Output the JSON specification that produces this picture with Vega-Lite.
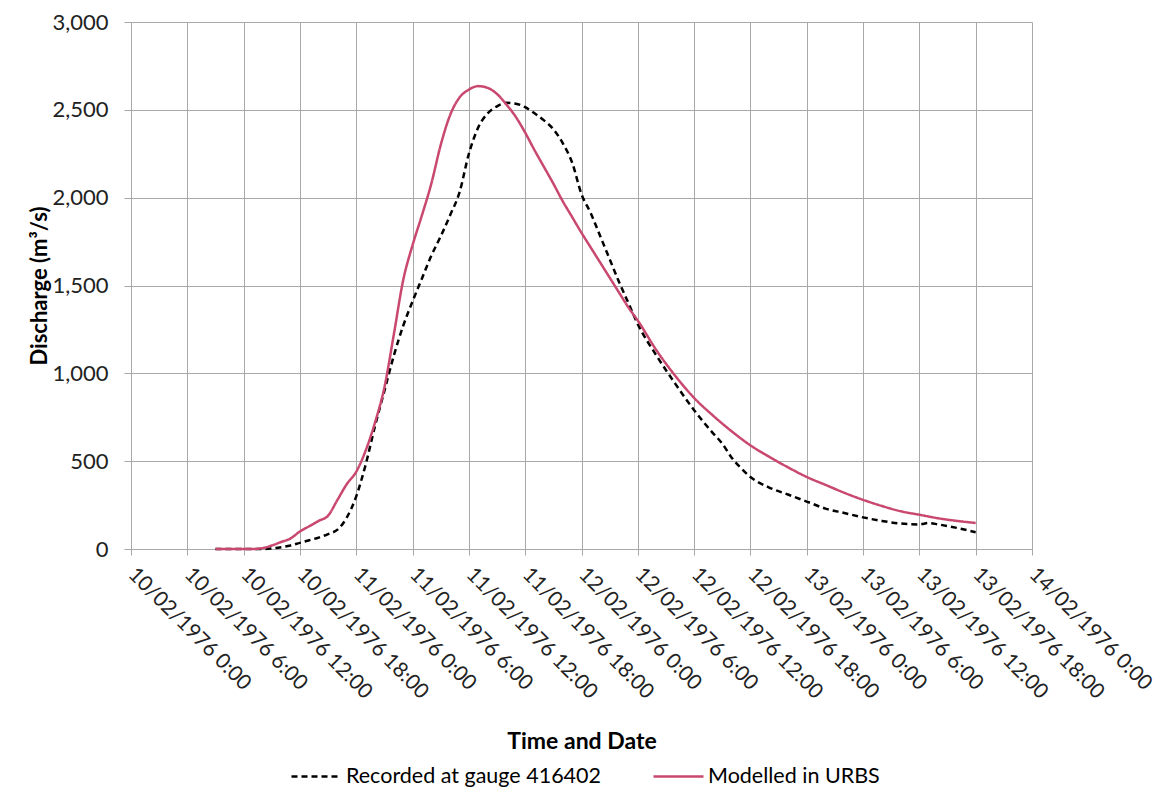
{
  "$schema": "https://vega.github.io/schema/vega-lite/v6.json",
  "autosize": {"type": "none"},
  "width": 901,
  "height": 527,
  "padding": {"left": 131, "top": 22, "right": 134, "bottom": 251},
  "background": "white",
  "config": {
    "font": "Lato",
    "view": {"stroke": null},
    "axis": {"labelFont": "Lato", "titleFont": "Lato", "labelColor": "#222", "titleColor": "#000", "gridColor": "#a8a8a8", "gridWidth": 1, "domainColor": "#a8a8a8", "tickColor": "#a8a8a8"}
  },
  "data": {"values": [
    {"t": "1976-02-10T09:00", "q": 0, "s": "Recorded at gauge 416402"},
    {"t": "1976-02-10T14:00", "q": 0, "s": "Recorded at gauge 416402"},
    {"t": "1976-02-10T15:00", "q": 3, "s": "Recorded at gauge 416402"},
    {"t": "1976-02-10T16:00", "q": 10, "s": "Recorded at gauge 416402"},
    {"t": "1976-02-10T17:00", "q": 20, "s": "Recorded at gauge 416402"},
    {"t": "1976-02-10T18:00", "q": 35, "s": "Recorded at gauge 416402"},
    {"t": "1976-02-10T19:00", "q": 50, "s": "Recorded at gauge 416402"},
    {"t": "1976-02-10T20:00", "q": 65, "s": "Recorded at gauge 416402"},
    {"t": "1976-02-10T21:00", "q": 85, "s": "Recorded at gauge 416402"},
    {"t": "1976-02-10T22:00", "q": 110, "s": "Recorded at gauge 416402"},
    {"t": "1976-02-10T23:00", "q": 180, "s": "Recorded at gauge 416402"},
    {"t": "1976-02-11T00:00", "q": 300, "s": "Recorded at gauge 416402"},
    {"t": "1976-02-11T01:00", "q": 480, "s": "Recorded at gauge 416402"},
    {"t": "1976-02-11T02:00", "q": 700, "s": "Recorded at gauge 416402"},
    {"t": "1976-02-11T03:00", "q": 900, "s": "Recorded at gauge 416402"},
    {"t": "1976-02-11T04:00", "q": 1100, "s": "Recorded at gauge 416402"},
    {"t": "1976-02-11T05:00", "q": 1270, "s": "Recorded at gauge 416402"},
    {"t": "1976-02-11T06:00", "q": 1410, "s": "Recorded at gauge 416402"},
    {"t": "1976-02-11T07:00", "q": 1540, "s": "Recorded at gauge 416402"},
    {"t": "1976-02-11T08:00", "q": 1670, "s": "Recorded at gauge 416402"},
    {"t": "1976-02-11T09:00", "q": 1780, "s": "Recorded at gauge 416402"},
    {"t": "1976-02-11T10:00", "q": 1900, "s": "Recorded at gauge 416402"},
    {"t": "1976-02-11T11:00", "q": 2030, "s": "Recorded at gauge 416402"},
    {"t": "1976-02-11T12:00", "q": 2250, "s": "Recorded at gauge 416402"},
    {"t": "1976-02-11T13:00", "q": 2400, "s": "Recorded at gauge 416402"},
    {"t": "1976-02-11T14:00", "q": 2480, "s": "Recorded at gauge 416402"},
    {"t": "1976-02-11T15:00", "q": 2520, "s": "Recorded at gauge 416402"},
    {"t": "1976-02-11T16:00", "q": 2540, "s": "Recorded at gauge 416402"},
    {"t": "1976-02-11T17:00", "q": 2535, "s": "Recorded at gauge 416402"},
    {"t": "1976-02-11T18:00", "q": 2515, "s": "Recorded at gauge 416402"},
    {"t": "1976-02-11T19:00", "q": 2480, "s": "Recorded at gauge 416402"},
    {"t": "1976-02-11T20:00", "q": 2440, "s": "Recorded at gauge 416402"},
    {"t": "1976-02-11T21:00", "q": 2390, "s": "Recorded at gauge 416402"},
    {"t": "1976-02-11T22:00", "q": 2310, "s": "Recorded at gauge 416402"},
    {"t": "1976-02-11T23:00", "q": 2200, "s": "Recorded at gauge 416402"},
    {"t": "1976-02-12T00:00", "q": 2020, "s": "Recorded at gauge 416402"},
    {"t": "1976-02-12T01:00", "q": 1910, "s": "Recorded at gauge 416402"},
    {"t": "1976-02-12T02:00", "q": 1780, "s": "Recorded at gauge 416402"},
    {"t": "1976-02-12T03:00", "q": 1650, "s": "Recorded at gauge 416402"},
    {"t": "1976-02-12T04:00", "q": 1520, "s": "Recorded at gauge 416402"},
    {"t": "1976-02-12T05:00", "q": 1400, "s": "Recorded at gauge 416402"},
    {"t": "1976-02-12T06:00", "q": 1280, "s": "Recorded at gauge 416402"},
    {"t": "1976-02-12T08:00", "q": 1100, "s": "Recorded at gauge 416402"},
    {"t": "1976-02-12T10:00", "q": 940, "s": "Recorded at gauge 416402"},
    {"t": "1976-02-12T12:00", "q": 790, "s": "Recorded at gauge 416402"},
    {"t": "1976-02-12T14:00", "q": 660, "s": "Recorded at gauge 416402"},
    {"t": "1976-02-12T15:00", "q": 600, "s": "Recorded at gauge 416402"},
    {"t": "1976-02-12T16:00", "q": 520, "s": "Recorded at gauge 416402"},
    {"t": "1976-02-12T17:00", "q": 460, "s": "Recorded at gauge 416402"},
    {"t": "1976-02-12T18:00", "q": 410, "s": "Recorded at gauge 416402"},
    {"t": "1976-02-12T20:00", "q": 350, "s": "Recorded at gauge 416402"},
    {"t": "1976-02-12T22:00", "q": 310, "s": "Recorded at gauge 416402"},
    {"t": "1976-02-13T00:00", "q": 270, "s": "Recorded at gauge 416402"},
    {"t": "1976-02-13T02:00", "q": 230, "s": "Recorded at gauge 416402"},
    {"t": "1976-02-13T04:00", "q": 205, "s": "Recorded at gauge 416402"},
    {"t": "1976-02-13T06:00", "q": 180, "s": "Recorded at gauge 416402"},
    {"t": "1976-02-13T08:00", "q": 160, "s": "Recorded at gauge 416402"},
    {"t": "1976-02-13T10:00", "q": 145, "s": "Recorded at gauge 416402"},
    {"t": "1976-02-13T12:00", "q": 140, "s": "Recorded at gauge 416402"},
    {"t": "1976-02-13T13:00", "q": 148, "s": "Recorded at gauge 416402"},
    {"t": "1976-02-13T14:00", "q": 140, "s": "Recorded at gauge 416402"},
    {"t": "1976-02-13T16:00", "q": 120, "s": "Recorded at gauge 416402"},
    {"t": "1976-02-13T18:00", "q": 95, "s": "Recorded at gauge 416402"},
    {"t": "1976-02-10T09:00", "q": 0, "s": "Modelled in URBS"},
    {"t": "1976-02-10T13:00", "q": 0, "s": "Modelled in URBS"},
    {"t": "1976-02-10T14:00", "q": 5, "s": "Modelled in URBS"},
    {"t": "1976-02-10T15:00", "q": 20, "s": "Modelled in URBS"},
    {"t": "1976-02-10T16:00", "q": 40, "s": "Modelled in URBS"},
    {"t": "1976-02-10T17:00", "q": 60, "s": "Modelled in URBS"},
    {"t": "1976-02-10T18:00", "q": 100, "s": "Modelled in URBS"},
    {"t": "1976-02-10T19:00", "q": 130, "s": "Modelled in URBS"},
    {"t": "1976-02-10T20:00", "q": 160, "s": "Modelled in URBS"},
    {"t": "1976-02-10T21:00", "q": 190, "s": "Modelled in URBS"},
    {"t": "1976-02-10T22:00", "q": 280, "s": "Modelled in URBS"},
    {"t": "1976-02-10T23:00", "q": 370, "s": "Modelled in URBS"},
    {"t": "1976-02-11T00:00", "q": 440, "s": "Modelled in URBS"},
    {"t": "1976-02-11T01:00", "q": 560, "s": "Modelled in URBS"},
    {"t": "1976-02-11T02:00", "q": 720, "s": "Modelled in URBS"},
    {"t": "1976-02-11T03:00", "q": 920, "s": "Modelled in URBS"},
    {"t": "1976-02-11T04:00", "q": 1220, "s": "Modelled in URBS"},
    {"t": "1976-02-11T05:00", "q": 1530, "s": "Modelled in URBS"},
    {"t": "1976-02-11T06:00", "q": 1730, "s": "Modelled in URBS"},
    {"t": "1976-02-11T07:00", "q": 1900, "s": "Modelled in URBS"},
    {"t": "1976-02-11T08:00", "q": 2080, "s": "Modelled in URBS"},
    {"t": "1976-02-11T09:00", "q": 2300, "s": "Modelled in URBS"},
    {"t": "1976-02-11T10:00", "q": 2470, "s": "Modelled in URBS"},
    {"t": "1976-02-11T11:00", "q": 2570, "s": "Modelled in URBS"},
    {"t": "1976-02-11T12:00", "q": 2615, "s": "Modelled in URBS"},
    {"t": "1976-02-11T13:00", "q": 2635, "s": "Modelled in URBS"},
    {"t": "1976-02-11T14:00", "q": 2625, "s": "Modelled in URBS"},
    {"t": "1976-02-11T15:00", "q": 2590, "s": "Modelled in URBS"},
    {"t": "1976-02-11T16:00", "q": 2530, "s": "Modelled in URBS"},
    {"t": "1976-02-11T17:00", "q": 2460, "s": "Modelled in URBS"},
    {"t": "1976-02-11T18:00", "q": 2370, "s": "Modelled in URBS"},
    {"t": "1976-02-11T19:00", "q": 2270, "s": "Modelled in URBS"},
    {"t": "1976-02-11T20:00", "q": 2175, "s": "Modelled in URBS"},
    {"t": "1976-02-11T21:00", "q": 2080, "s": "Modelled in URBS"},
    {"t": "1976-02-11T22:00", "q": 1980, "s": "Modelled in URBS"},
    {"t": "1976-02-11T23:00", "q": 1890, "s": "Modelled in URBS"},
    {"t": "1976-02-12T00:00", "q": 1800, "s": "Modelled in URBS"},
    {"t": "1976-02-12T01:00", "q": 1715, "s": "Modelled in URBS"},
    {"t": "1976-02-12T02:00", "q": 1630, "s": "Modelled in URBS"},
    {"t": "1976-02-12T03:00", "q": 1545, "s": "Modelled in URBS"},
    {"t": "1976-02-12T04:00", "q": 1460, "s": "Modelled in URBS"},
    {"t": "1976-02-12T05:00", "q": 1375, "s": "Modelled in URBS"},
    {"t": "1976-02-12T06:00", "q": 1300, "s": "Modelled in URBS"},
    {"t": "1976-02-12T08:00", "q": 1130, "s": "Modelled in URBS"},
    {"t": "1976-02-12T10:00", "q": 985, "s": "Modelled in URBS"},
    {"t": "1976-02-12T12:00", "q": 860, "s": "Modelled in URBS"},
    {"t": "1976-02-12T14:00", "q": 760, "s": "Modelled in URBS"},
    {"t": "1976-02-12T16:00", "q": 670, "s": "Modelled in URBS"},
    {"t": "1976-02-12T18:00", "q": 590, "s": "Modelled in URBS"},
    {"t": "1976-02-12T20:00", "q": 525, "s": "Modelled in URBS"},
    {"t": "1976-02-12T22:00", "q": 465, "s": "Modelled in URBS"},
    {"t": "1976-02-13T00:00", "q": 410, "s": "Modelled in URBS"},
    {"t": "1976-02-13T02:00", "q": 365, "s": "Modelled in URBS"},
    {"t": "1976-02-13T04:00", "q": 320, "s": "Modelled in URBS"},
    {"t": "1976-02-13T06:00", "q": 280, "s": "Modelled in URBS"},
    {"t": "1976-02-13T08:00", "q": 245, "s": "Modelled in URBS"},
    {"t": "1976-02-13T10:00", "q": 215, "s": "Modelled in URBS"},
    {"t": "1976-02-13T12:00", "q": 195, "s": "Modelled in URBS"},
    {"t": "1976-02-13T14:00", "q": 175, "s": "Modelled in URBS"},
    {"t": "1976-02-13T16:00", "q": 160, "s": "Modelled in URBS"},
    {"t": "1976-02-13T18:00", "q": 148, "s": "Modelled in URBS"}
  ]},
  "mark": {"type": "line", "interpolate": "monotone", "strokeWidth": 2.5},
  "encoding": {
    "x": {
      "field": "t", "type": "temporal",
      "scale": {"domain": [{"year": 1976, "month": 2, "date": 10, "hours": 0}, {"year": 1976, "month": 2, "date": 14, "hours": 0}]},
      "axis": {
        "title": "Time and Date", "titleFontSize": 23, "titleFontWeight": "bold", "titlePadding": 28,
        "format": "%d/%m/%Y %-H:%M", "labelAngle": 45, "labelAlign": "left", "labelBaseline": "middle",
        "labelFontSize": 21, "labelPadding": 16, "labelOverlap": false, "labelFlush": false,
        "tickSize": 6, "grid": true,
        "values": [
          {"year": 1976, "month": 2, "date": 10, "hours": 0},
          {"year": 1976, "month": 2, "date": 10, "hours": 6},
          {"year": 1976, "month": 2, "date": 10, "hours": 12},
          {"year": 1976, "month": 2, "date": 10, "hours": 18},
          {"year": 1976, "month": 2, "date": 11, "hours": 0},
          {"year": 1976, "month": 2, "date": 11, "hours": 6},
          {"year": 1976, "month": 2, "date": 11, "hours": 12},
          {"year": 1976, "month": 2, "date": 11, "hours": 18},
          {"year": 1976, "month": 2, "date": 12, "hours": 0},
          {"year": 1976, "month": 2, "date": 12, "hours": 6},
          {"year": 1976, "month": 2, "date": 12, "hours": 12},
          {"year": 1976, "month": 2, "date": 12, "hours": 18},
          {"year": 1976, "month": 2, "date": 13, "hours": 0},
          {"year": 1976, "month": 2, "date": 13, "hours": 6},
          {"year": 1976, "month": 2, "date": 13, "hours": 12},
          {"year": 1976, "month": 2, "date": 13, "hours": 18},
          {"year": 1976, "month": 2, "date": 14, "hours": 0}
        ]
      }
    },
    "y": {
      "field": "q", "type": "quantitative",
      "scale": {"domain": [0, 3000], "nice": false},
      "axis": {"title": "Discharge (m³/s)", "titleFontSize": 22, "titleFontWeight": "bold", "titlePadding": 0,
        "values": [0, 500, 1000, 1500, 2000, 2500, 3000], "format": ",d", "labelFontSize": 22, "labelPadding": 16, "tickSize": 7, "domain": true, "grid": true}
    },
    "color": {
      "field": "s", "type": "nominal",
      "scale": {"domain": ["Recorded at gauge 416402", "Modelled in URBS"], "range": ["#000000", "#C9486F"]},
      "legend": {"title": null, "orient": "none", "direction": "horizontal", "legendX": 159, "legendY": 728,
        "labelFontSize": 21.5, "labelFont": "Lato", "labelColor": "#000", "labelLimit": 0, "symbolType": "stroke", "symbolSize": 2500, "symbolStrokeWidth": 2.5, "columnPadding": 46, "labelOffset": 3}
    },
    "strokeDash": {
      "field": "s", "type": "nominal",
      "scale": {"domain": ["Recorded at gauge 416402", "Modelled in URBS"], "range": [[6, 4], [1, 0]]},
      "legend": null
    }
  }
}
